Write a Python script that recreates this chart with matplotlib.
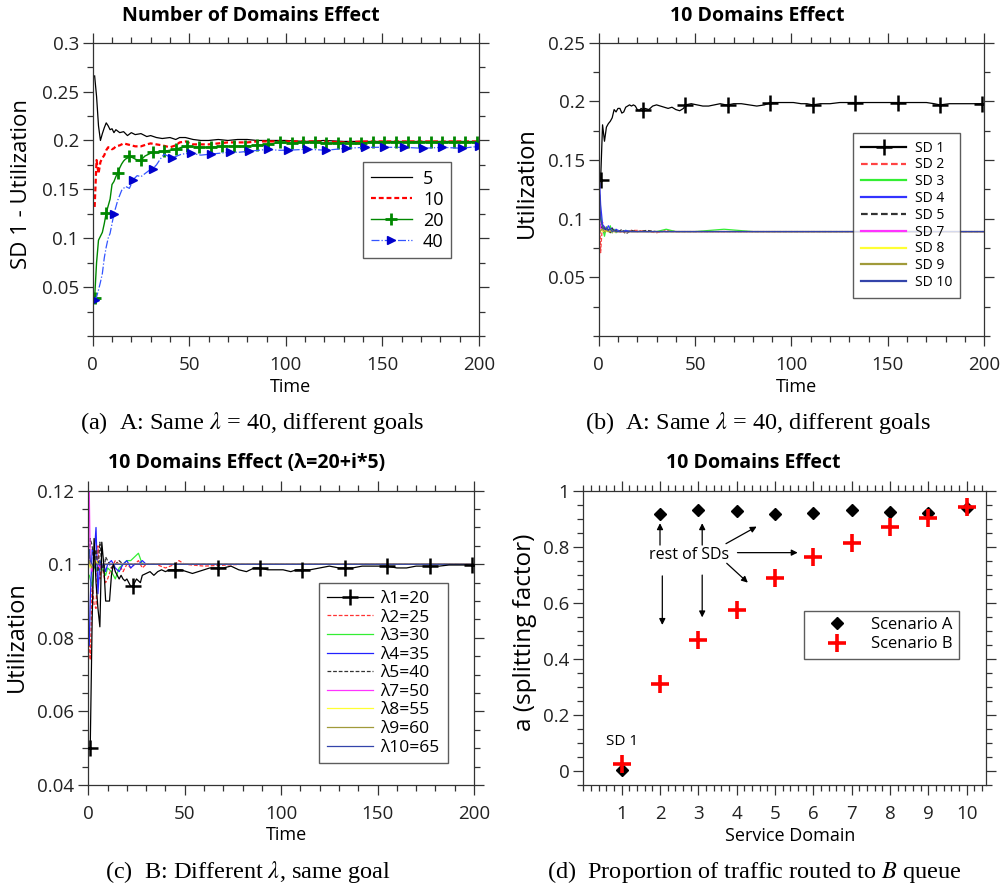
import matplotlib
matplotlib.use("Agg")
import matplotlib.pyplot as plt
from matplotlib.ticker import MultipleLocator, FuncFormatter

plt.rcParams['font.family'] = ['Open Sans', 'DejaVu Sans']
plt.rcParams['mathtext.fontset'] = 'stix'

# ---------------- Panel (a) data ----------------
T_A = [1, 2, 3, 4, 5, 6, 7, 8, 9, 10, 11, 12, 14, 16, 18, 20, 22, 25, 28, 30, 33, 36, 40, 43, 45, 48,
       52, 56, 60, 65, 70, 75, 80, 85, 90, 100, 110, 120, 130, 140, 150, 160, 170, 180, 190, 200]
U_5 = [0.266, 0.245, 0.215, 0.200, 0.207, 0.213, 0.218, 0.215, 0.211, 0.212, 0.208, 0.211, 0.208, 0.209,
       0.205, 0.208, 0.206, 0.207, 0.204, 0.205, 0.203, 0.202, 0.203, 0.201, 0.203, 0.203,
       0.201, 0.200, 0.200, 0.201, 0.200, 0.201, 0.201, 0.200, 0.200, 0.200, 0.199, 0.200, 0.199, 0.199,
       0.199, 0.199, 0.199, 0.199, 0.199, 0.199]
U_10 = [0.132, 0.180, 0.166, 0.178, 0.182, 0.185, 0.190, 0.193, 0.193, 0.191, 0.192, 0.194, 0.195, 0.197,
        0.196, 0.195, 0.194, 0.194, 0.196, 0.197, 0.196, 0.195, 0.193, 0.195, 0.198, 0.199,
        0.196, 0.196, 0.196, 0.197, 0.198, 0.198, 0.198, 0.199, 0.199, 0.199, 0.199, 0.199, 0.198, 0.199,
        0.199, 0.199, 0.199, 0.199, 0.199, 0.199]
T_20 = [1, 2, 3, 4, 5, 6, 7, 8, 9, 10, 11, 12, 13, 14, 15, 16, 17, 18, 19, 20, 21, 22, 23, 24, 25, 27, 29,
        31, 34, 37, 40, 43, 46, 49, 55, 61, 67, 73, 79, 85, 91, 97, 103, 109, 115, 121, 127, 133, 139,
        145, 151, 157, 163, 169, 175, 181, 187, 193, 199]
U_20 = [0.039, 0.075, 0.098, 0.102, 0.106, 0.115, 0.126, 0.133, 0.140, 0.155, 0.158, 0.163, 0.167, 0.172,
        0.176, 0.179, 0.181, 0.182, 0.184, 0.183, 0.182, 0.181, 0.180, 0.179, 0.180, 0.184, 0.186,
        0.188, 0.188, 0.189, 0.190, 0.191, 0.193, 0.194, 0.193, 0.193, 0.194, 0.194, 0.194, 0.195, 0.196,
        0.198, 0.197, 0.198, 0.198, 0.197, 0.197, 0.197, 0.197, 0.198, 0.198, 0.198, 0.198, 0.198, 0.198,
        0.198, 0.198, 0.198, 0.198]
T_40 = [1, 2, 3, 4, 5, 6, 7, 8, 9, 10, 11, 12, 13, 15, 17, 19, 21, 23, 25, 27, 29, 31, 33, 35, 37, 39, 41,
        46, 51, 56, 61, 66, 71, 76, 81, 86, 91, 96, 101, 111, 121, 131, 141, 151, 161, 171, 181, 191, 200]
U_40 = [0.037, 0.040, 0.047, 0.055, 0.064, 0.080, 0.091, 0.100, 0.105, 0.115, 0.125, 0.132, 0.139, 0.149,
        0.153, 0.151, 0.160, 0.164, 0.163, 0.166, 0.169, 0.171, 0.175, 0.181, 0.186, 0.184, 0.182,
        0.186, 0.187, 0.185, 0.186, 0.187, 0.188, 0.188, 0.189, 0.190, 0.191, 0.190, 0.190, 0.191, 0.190,
        0.192, 0.193, 0.193, 0.193, 0.192, 0.193, 0.192, 0.194]
LABELS_A = ['5', '10', '20', '40']

# ---------------- Panel (b) data ----------------
T_SD1 = [1, 2, 3, 4, 5, 6, 7, 8, 9, 10, 11, 12, 13, 14, 15, 16, 17, 18, 19, 20, 21, 22, 23, 24, 26, 28,
         30, 32, 34, 36, 38, 40, 42, 44, 45, 48, 51, 54, 57, 60, 63, 66, 67, 70, 74, 78, 82, 86, 89, 93,
         97, 101, 105, 108, 111, 115, 120, 125, 130, 133, 137, 142, 147, 152, 155, 160, 165, 170, 174,
         177, 182, 187, 192, 196, 199]
U_SD1 = [0.133, 0.180, 0.166, 0.178, 0.181, 0.183, 0.186, 0.193, 0.191, 0.194, 0.194, 0.190, 0.191,
         0.195, 0.196, 0.197, 0.196, 0.197, 0.196, 0.193, 0.192, 0.194, 0.193, 0.194, 0.193, 0.196,
         0.197, 0.196, 0.195, 0.194, 0.195, 0.193, 0.192, 0.194, 0.197, 0.198, 0.197, 0.196, 0.196,
         0.197, 0.198, 0.197, 0.197, 0.198, 0.198, 0.197, 0.196, 0.197, 0.199, 0.199, 0.199, 0.199,
         0.198, 0.198, 0.197, 0.198, 0.198, 0.199, 0.199, 0.199, 0.199, 0.199, 0.199, 0.199, 0.199,
         0.199, 0.199, 0.199, 0.198, 0.197, 0.198, 0.198, 0.198, 0.198, 0.198]
T_BR = [0.5, 1, 2, 3, 4, 5, 6, 7, 8, 9, 10, 12, 14, 17, 20, 25, 30, 35, 40, 50, 65, 80, 200]
U_SD2 = [0.100, 0.071, 0.097, 0.088, 0.093, 0.090, 0.092, 0.088, 0.090, 0.089, 0.090, 0.088, 0.089,
         0.090, 0.090, 0.089, 0.088, 0.090, 0.089, 0.089, 0.089, 0.089, 0.089]
U_SD3 = [0.095, 0.104, 0.092, 0.085, 0.093, 0.089, 0.094, 0.088, 0.091, 0.088, 0.090, 0.089, 0.090,
         0.089, 0.089, 0.089, 0.089, 0.091, 0.089, 0.089, 0.091, 0.089, 0.089]
U_SD4 = [0.130, 0.112, 0.095, 0.093, 0.090, 0.094, 0.091, 0.092, 0.089, 0.091, 0.090, 0.089, 0.090,
         0.089, 0.089, 0.089, 0.089, 0.089, 0.089, 0.089, 0.089, 0.089, 0.089]
U_SD5 = [0.092, 0.095, 0.090, 0.092, 0.089, 0.091, 0.088, 0.092, 0.089, 0.090, 0.088, 0.091, 0.087,
         0.090, 0.089, 0.090, 0.089, 0.089, 0.089, 0.089, 0.089, 0.089, 0.089]
U_SD7 = [0.098, 0.092, 0.090, 0.089, 0.090, 0.089, 0.090, 0.089, 0.089, 0.089, 0.089, 0.089, 0.089,
         0.089, 0.089, 0.089, 0.089, 0.089, 0.089, 0.089, 0.089, 0.089, 0.089]
U_SD8 = [0.090, 0.091, 0.089, 0.090, 0.089, 0.089, 0.090, 0.089, 0.089, 0.089, 0.089, 0.089, 0.089,
         0.089, 0.089, 0.089, 0.089, 0.089, 0.089, 0.089, 0.089, 0.089, 0.089]
U_SD9 = [0.088, 0.090, 0.091, 0.089, 0.090, 0.089, 0.089, 0.090, 0.089, 0.089, 0.089, 0.089, 0.089,
         0.089, 0.089, 0.089, 0.089, 0.089, 0.089, 0.089, 0.089, 0.089, 0.089]
U_SD10 = [0.120, 0.100, 0.093, 0.091, 0.092, 0.090, 0.091, 0.089, 0.090, 0.089, 0.089, 0.089, 0.089,
          0.089, 0.089, 0.089, 0.089, 0.089, 0.089, 0.089, 0.089, 0.089, 0.089]
LABELS_B = ['SD 1', 'SD 2', 'SD 3', 'SD 4', 'SD 5', 'SD 7', 'SD 8', 'SD 9', 'SD 10']

# ---------------- Panel (c) data ----------------
T_C1 = [1, 2, 3, 4, 5, 6, 7, 8, 9, 10, 11, 12, 13, 14, 15, 16, 17, 18, 19, 20, 21, 22, 23, 24, 25, 26,
        27, 28, 30, 32, 34, 36, 38, 40, 42, 45, 48, 51, 54, 57, 60, 63, 67, 70, 74, 78, 82, 86, 89, 93,
        97, 101, 105, 108, 111, 115, 120, 125, 130, 133, 137, 142, 147, 152, 155, 160, 165, 170, 174,
        177, 182, 187, 192, 196, 199]
U_C1 = [0.050, 0.085, 0.107, 0.095, 0.088, 0.083, 0.106, 0.100, 0.090, 0.090, 0.090, 0.097, 0.100,
        0.098, 0.097, 0.096, 0.097, 0.096, 0.0955, 0.096, 0.095, 0.094, 0.094, 0.095, 0.096, 0.0955,
        0.095, 0.097, 0.0975, 0.098, 0.097, 0.098, 0.0985, 0.098, 0.0985, 0.0985, 0.0985, 0.098,
        0.0975, 0.098, 0.0985, 0.099, 0.099, 0.099, 0.0995, 0.0985, 0.098, 0.099, 0.099, 0.0985,
        0.0985, 0.0985, 0.098, 0.0985, 0.0985, 0.0985, 0.099, 0.0995, 0.099, 0.099, 0.099, 0.0995,
        0.0995, 0.0995, 0.0995, 0.099, 0.099, 0.0995, 0.0995, 0.0995, 0.0995, 0.0998, 0.0998,
        0.0998, 0.0997]
T_CR = [0.5, 1, 2, 3, 4, 5, 6, 7, 8, 9, 10, 12, 14, 16, 18, 20, 22, 24, 26, 28, 30, 35, 40, 45, 47, 50,
        60, 80, 200]
U_L2 = [0.080, 0.074, 0.095, 0.089, 0.088, 0.105, 0.096, 0.100, 0.097, 0.095, 0.096, 0.099, 0.101,
        0.100, 0.098, 0.100, 0.099, 0.100, 0.101, 0.099, 0.100, 0.100, 0.099, 0.100, 0.101, 0.100,
        0.0995, 0.100, 0.100]
U_L3 = [0.097, 0.096, 0.094, 0.100, 0.098, 0.100, 0.101, 0.099, 0.098, 0.097, 0.099, 0.098, 0.096,
        0.099, 0.100, 0.101, 0.101, 0.102, 0.103, 0.100, 0.100, 0.100, 0.100, 0.100, 0.100, 0.100,
        0.100, 0.100, 0.100]
U_L4 = [0.078, 0.090, 0.104, 0.102, 0.110, 0.092, 0.101, 0.099, 0.100, 0.098, 0.100, 0.101, 0.099,
        0.098, 0.100, 0.101, 0.099, 0.100, 0.100, 0.101, 0.100, 0.100, 0.100, 0.100, 0.100, 0.100,
        0.100, 0.100, 0.100]
U_L5 = [0.100, 0.107, 0.105, 0.100, 0.104, 0.098, 0.106, 0.100, 0.098, 0.102, 0.101, 0.099, 0.100,
        0.101, 0.100, 0.100, 0.100, 0.100, 0.100, 0.100, 0.100, 0.100, 0.100, 0.100, 0.100, 0.100,
        0.100, 0.100, 0.100]
U_L7 = [0.120, 0.100, 0.098, 0.101, 0.100, 0.100, 0.099, 0.100, 0.100, 0.100, 0.100, 0.100, 0.100,
        0.100, 0.100, 0.100, 0.100, 0.100, 0.100, 0.100, 0.100, 0.100, 0.100, 0.100, 0.100, 0.100,
        0.100, 0.100, 0.100]
U_L8 = [0.100, 0.099, 0.100, 0.100, 0.101, 0.100, 0.100, 0.100, 0.100, 0.100, 0.100, 0.100, 0.100,
        0.100, 0.100, 0.100, 0.100, 0.100, 0.100, 0.100, 0.100, 0.100, 0.100, 0.100, 0.100, 0.100,
        0.100, 0.100, 0.100]
U_L9 = [0.101, 0.100, 0.099, 0.100, 0.100, 0.100, 0.100, 0.100, 0.100, 0.100, 0.100, 0.100, 0.100,
        0.100, 0.100, 0.100, 0.100, 0.100, 0.100, 0.100, 0.100, 0.100, 0.100, 0.100, 0.100, 0.100,
        0.100, 0.100, 0.100]
U_L10 = [0.104, 0.101, 0.100, 0.099, 0.100, 0.100, 0.100, 0.100, 0.100, 0.100, 0.100, 0.100, 0.100,
         0.100, 0.100, 0.100, 0.100, 0.100, 0.100, 0.100, 0.100, 0.100, 0.100, 0.100, 0.100, 0.100,
         0.100, 0.100, 0.100]
LABELS_C = ['λ1=20', 'λ2=25', 'λ3=30', 'λ4=35', 'λ5=40', 'λ7=50', 'λ8=55', 'λ9=60', 'λ10=65']

# ---------------- Panel (d) data ----------------
SD = [1, 2, 3, 4, 5, 6, 7, 8, 9, 10]
A_SPLIT = [0.005, 0.917, 0.931, 0.927, 0.917, 0.920, 0.931, 0.924, 0.921, 0.937]
B_SPLIT = [0.025, 0.310, 0.467, 0.574, 0.690, 0.762, 0.813, 0.870, 0.901, 0.943]
LABELS_D = ['Scenario A', 'Scenario B']

# ticks
TIME_TICKS = [0, 50, 100, 150, 200]
YT_A = [0.05, 0.1, 0.15, 0.2, 0.25, 0.3]
YT_B = [0.05, 0.1, 0.15, 0.2, 0.25]
YT_C = [0.04, 0.06, 0.08, 0.1, 0.12]
YT_D = [0, 0.2, 0.4, 0.6, 0.8, 1]

W, H = 1003, 891
fig = plt.figure(figsize=(W / 100, H / 100), dpi=100)

SPINE = '#333333'
fmt = FuncFormatter(lambda v, p: '%g' % v)


def rect(l, t, r, b):
    return [l / W, 1 - b / H, (r - l) / W, (b - t) / H]


def style(ax, xt, xminor, yt, yminor):
    ax.set_xticks(xt)
    ax.set_yticks(yt)
    ax.xaxis.set_minor_locator(MultipleLocator(xminor))
    ax.yaxis.set_minor_locator(MultipleLocator(yminor))
    ax.xaxis.set_major_formatter(fmt)
    ax.yaxis.set_major_formatter(fmt)
    ax.tick_params(which='both', direction='out', top=True, right=True, color=SPINE, width=0.9)
    ax.tick_params(which='major', length=7, labelsize=13.5, labelcolor='#222222')
    ax.tick_params(which='minor', length=4.5)
    ax.tick_params(axis='x', pad=7.5)
    ax.tick_params(axis='y', pad=3)
    for s in ax.spines.values():
        s.set_color(SPINE)
        s.set_linewidth(0.9)


def ftext(x, y, s, **kw):
    fig.text(x / W, 1 - y / H, s, ha='center', va='center', **kw)


def marks(ts, step, start=1):
    return [i for i, t in enumerate(ts) if (t - start) % step == 0]


def frame(leg):
    leg.get_frame().set_linewidth(1.0)


# ---------------- Panel (a) ----------------
ax = fig.add_axes(rect(92.7, 42.7, 479, 336))
ax.plot(T_A, U_5, color='black', lw=0.9, label=LABELS_A[0])
ax.plot(T_A, U_10, color='#ff0000', lw=1.6, dashes=(2.2, 1.3), label=LABELS_A[1])
ax.plot(T_20, U_20, color='#008800', lw=1.0, marker='+', ms=9, mew=2, markevery=marks(T_20, 6),
        label=LABELS_A[2])
ax.plot(T_40, U_40, color='#3355ff', lw=0.9, ls='-.', marker='>', ms=6, mfc='#0000cc', mec='#0000cc',
        markevery=marks(T_40, 10) + [len(T_40) - 1], label=LABELS_A[3])
ax.set_xlim(0, 200)
ax.set_ylim(0, 0.3)
style(ax, TIME_TICKS, 10, YT_A, 0.025)
frame(ax.legend(loc='upper left', bbox_to_anchor=(363 / W, 1 - 162 / H), bbox_transform=fig.transFigure,
                borderaxespad=0, fontsize=13, frameon=True, fancybox=False, edgecolor='#333333',
                handlelength=2.3, labelspacing=0.17, borderpad=0.42, handletextpad=0.6))
ftext(251, 16, 'Number of Domains Effect', fontsize=14, fontweight='bold')
ftext(291, 387, 'Time', fontsize=13)
ftext(22, 184, 'SD 1 - Utilization', fontsize=16, rotation=90)
ftext(252.5, 423, '(a)  A: Same $\\lambda$ = 40, different goals', fontsize=17.5,
      family='Liberation Serif')

# ---------------- Panel (b) ----------------
ax = fig.add_axes(rect(598.7, 42.7, 984.3, 336))
ax.plot(T_SD1, U_SD1, color='black', lw=0.9, marker='+', ms=12, mew=1.8, markevery=marks(T_SD1, 22),
        label=LABELS_B[0])
ax.plot(T_BR, U_SD2, color='#ff4444', lw=0.9, ls='--', dashes=(3, 1.5), label=LABELS_B[1])
ax.plot(T_BR, U_SD3, color='#33ee33', lw=0.9, label=LABELS_B[2])
ax.plot(T_BR, U_SD4, color='#3333ff', lw=0.9, label=LABELS_B[3])
ax.plot(T_BR, U_SD5, color='#333333', lw=0.9, ls='--', dashes=(3, 1.5), label=LABELS_B[4])
ax.plot(T_BR, U_SD7, color='#ff33ff', lw=0.9, label=LABELS_B[5])
ax.plot(T_BR, U_SD8, color='#ffff33', lw=0.9, label=LABELS_B[6])
ax.plot(T_BR, U_SD9, color='#a09a3a', lw=0.9, label=LABELS_B[7])
ax.plot(T_BR, U_SD10, color='#3344aa', lw=0.9, label=LABELS_B[8])
ax.set_xlim(0, 200)
ax.set_ylim(0, 0.25)
style(ax, TIME_TICKS, 10, YT_B, 0.025)
leg = ax.legend(loc='upper left', bbox_to_anchor=(853 / W, 1 - 133 / H), bbox_transform=fig.transFigure,
                borderaxespad=0, fontsize=10, frameon=True, fancybox=False, edgecolor='#333333',
                handlelength=3.3, labelspacing=0.13, borderpad=0.55, handletextpad=0.6)
frame(leg)
for ln in leg.get_lines():
    ln.set_linewidth(1.6)
ftext(757, 16, '10 Domains Effect', fontsize=14, fontweight='bold')
ftext(797, 387, 'Time', fontsize=13)
ftext(527, 183, 'Utilization', fontsize=17, rotation=90)
ftext(758, 423, '(b)  A: Same $\\lambda$ = 40, different goals', fontsize=17.5,
      family='Liberation Serif')

# ---------------- Panel (c) ----------------
ax = fig.add_axes(rect(88.3, 490.7, 474, 785))
ax.plot(T_C1, U_C1, color='black', lw=0.9, marker='+', ms=12, mew=1.8, markevery=marks(T_C1, 22),
        label=LABELS_C[0], zorder=3)
ax.plot(T_CR, U_L2, color='#ff3333', lw=0.9, ls='--', dashes=(3, 1.5), label=LABELS_C[1])
ax.plot(T_CR, U_L3, color='#33ee33', lw=0.9, label=LABELS_C[2])
ax.plot(T_CR, U_L4, color='#2222ff', lw=0.9, label=LABELS_C[3])
ax.plot(T_CR, U_L5, color='#333333', lw=0.9, ls='--', dashes=(3, 1.5), label=LABELS_C[4])
ax.plot(T_CR, U_L7, color='#ff33ff', lw=0.9, label=LABELS_C[5])
ax.plot(T_CR, U_L8, color='#ffff33', lw=0.9, label=LABELS_C[6])
ax.plot(T_CR, U_L9, color='#a09a3a', lw=0.9, label=LABELS_C[7])
ax.plot(T_CR, U_L10, color='#3344aa', lw=0.9, label=LABELS_C[8])
ax.set_xlim(0, 200)
ax.set_ylim(0.04, 0.12)
style(ax, TIME_TICKS, 10, YT_C, 0.005)
frame(ax.legend(loc='upper left', bbox_to_anchor=(319 / W, 1 - 583 / H), bbox_transform=fig.transFigure,
                borderaxespad=0, fontsize=12.5, frameon=True, fancybox=False, edgecolor='#333333',
                handlelength=2.65, labelspacing=0.14, borderpad=0.45, handletextpad=0.45))
ftext(247, 463, '10 Domains Effect (λ=20+i*5)', fontsize=14, fontweight='bold')
ftext(287, 835, 'Time', fontsize=13)
ftext(17, 637, 'Utilization', fontsize=17, rotation=90)
ftext(248, 872, '(c)  B: Different $\\lambda$, same goal', fontsize=17.5, family='Liberation Serif')

# ---------------- Panel (d) ----------------
ax = fig.add_axes(rect(583.3, 490.7, 986, 785))
ax.plot(SD, A_SPLIT, ls='none', marker='D', ms=6, color='black', label=LABELS_D[0])
ax.plot(SD, B_SPLIT, ls='none', marker='+', ms=13, mew=2.6, color='#ff0000', label=LABELS_D[1])
ax.set_xlim(0, 10.5)
ax.set_ylim(-0.05, 1.0)
style(ax, SD, 0.2, YT_D, 0.05)
frame(ax.legend(loc='upper left', bbox_to_anchor=(804 / W, 1 - 610.7 / H), bbox_transform=fig.transFigure,
                borderaxespad=0, fontsize=12, frameon=True, fancybox=False, edgecolor='#333333',
                handlelength=3.2, labelspacing=0.2, borderpad=0.38, handletextpad=0.45))
ap = dict(arrowstyle='-|>', color='black', lw=0.9, mutation_scale=9, shrinkA=0, shrinkB=0)
arrows = [((2.0, 0.806), (2.0, 0.884)), ((3.1, 0.806), (3.1, 0.884)),
          ((3.72, 0.811), (4.52, 0.872)), ((4.02, 0.779), (5.59, 0.779)),
          ((3.74, 0.741), (4.29, 0.672)), ((2.06, 0.696), (2.06, 0.521)),
          ((3.1, 0.699), (3.1, 0.548))]
for (x0, y0), (x1, y1) in arrows:
    ax.annotate('', xy=(x1, y1), xytext=(x0, y0), arrowprops=ap)
ax.text(2.75, 0.77, 'rest of SDs', ha='center', va='center', fontsize=11.5)
ax.text(1.02, 0.105, 'SD 1', ha='center', va='center', fontsize=11)
ftext(753, 463, '10 Domains Effect', fontsize=14, fontweight='bold')
ftext(790, 836, 'Service Domain', fontsize=13)
ftext(525, 632, 'a (splitting factor)', fontsize=17.5, rotation=90)
ftext(754.7, 872, '(d)  Proportion of traffic routed to $B$ queue', fontsize=17.5,
      family='Liberation Serif')

fig.savefig('out.png', dpi=100)
